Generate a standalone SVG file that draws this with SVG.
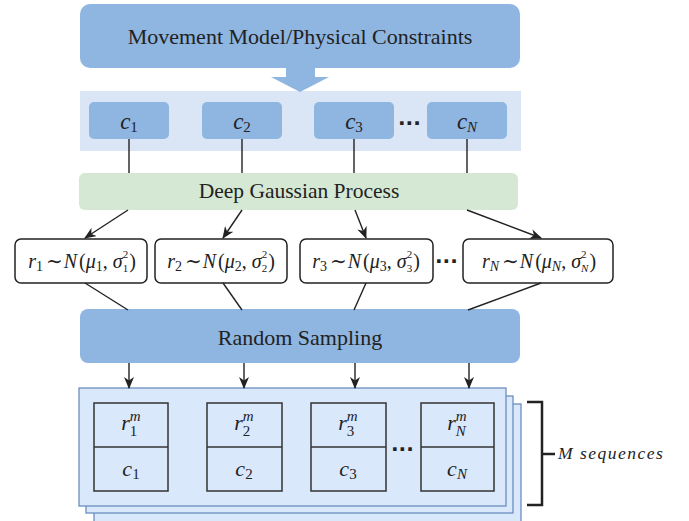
<svg xmlns="http://www.w3.org/2000/svg" width="689" height="521" viewBox="0 0 689 521">
<defs>
<style>
.blue{fill:#8fb5e1;}
.t{font-family:"Liberation Serif","DejaVu Serif",serif;fill:#222;}
.i{font-style:italic;}
.s{font-size:14px;}
.rbox{fill:#fff;stroke:#222;stroke-width:1.5;}
.sheet{fill:#dae8fc;stroke:#6c8ebf;stroke-width:1.3;}
.cell{fill:none;stroke:#333;stroke-width:1.5;}
.ln{stroke:#222;stroke-width:1.4;fill:none;}
.dots{font-family:"DejaVu Sans",sans-serif;font-weight:bold;font-size:20px;fill:#222;}
</style>
<marker id="ah" markerWidth="12" markerHeight="10" refX="11" refY="5" orient="auto" markerUnits="userSpaceOnUse">
<path d="M0,0 L12,5 L0,10 L3.5,5 z" fill="#222"/>
</marker>
</defs>
<rect width="689" height="521" fill="#fff"/>

<g id="constraints">
<rect class="blue" x="80" y="4" width="440" height="64" rx="10"/>
<text class="t" x="300" y="44" font-size="22" text-anchor="middle">Movement Model/Physical Constraints</text>
</g>

<g id="c-band">
<rect x="80" y="91" width="441" height="60" fill="#dae6f5"/>
<polygon class="blue" points="286,67 315,67 315,77 329,77 300,92 271,77 286,77"/>
</g>

<g id="c1"><rect class="blue" x="89" y="102" width="80" height="37" rx="5"/>
<text class="t" x="129" y="129" font-size="23" text-anchor="middle"><tspan class="i">c</tspan><tspan font-size="15" dy="3">1</tspan></text></g>
<g id="c2"><rect class="blue" x="202" y="102" width="80" height="37" rx="5"/>
<text class="t" x="242" y="129" font-size="23" text-anchor="middle"><tspan class="i">c</tspan><tspan font-size="15" dy="3">2</tspan></text></g>
<g id="c3"><rect class="blue" x="314" y="102" width="80" height="37" rx="5"/>
<text class="t" x="354" y="129" font-size="23" text-anchor="middle"><tspan class="i">c</tspan><tspan font-size="15" dy="3">3</tspan></text></g>
<text class="dots" x="398" y="125">...</text>
<g id="cN"><rect class="blue" x="427" y="102" width="80" height="37" rx="5"/>
<text class="t" x="467" y="129" font-size="23" text-anchor="middle"><tspan class="i">c</tspan><tspan class="i" font-size="15" dy="3">N</tspan></text></g>

<g id="dgp">
<rect x="79" y="173" width="439" height="37" rx="6" fill="#d5e8d4"/>
<text class="t" x="299" y="198" font-size="21.5" text-anchor="middle">Deep Gaussian Process</text>
</g>

<g id="r1"><rect class="rbox" x="15" y="239" width="132" height="44" rx="6"/>
<text class="t" x="82" y="268" font-size="20" text-anchor="middle"><tspan class="i">r</tspan><tspan class="s" dy="3">1</tspan><tspan dy="-3" dx="3">∼</tspan><tspan class="i" dx="1">N</tspan><tspan dx="2">(</tspan><tspan class="i">μ</tspan><tspan class="s" dy="3">1</tspan><tspan dy="-3">,</tspan><tspan class="i" dx="5">σ</tspan><tspan font-size="11" dy="-10">2</tspan><tspan font-size="11" dx="-5.5" dy="14">1</tspan><tspan dy="-4" dx="1">)</tspan></text></g>
<g id="r2"><rect class="rbox" x="155" y="239" width="132" height="44" rx="6"/>
<text class="t" x="221" y="268" font-size="20" text-anchor="middle"><tspan class="i">r</tspan><tspan class="s" dy="3">2</tspan><tspan dy="-3" dx="3">∼</tspan><tspan class="i" dx="1">N</tspan><tspan dx="2">(</tspan><tspan class="i">μ</tspan><tspan class="s" dy="3">2</tspan><tspan dy="-3">,</tspan><tspan class="i" dx="5">σ</tspan><tspan font-size="11" dy="-10">2</tspan><tspan font-size="11" dx="-5.5" dy="14">2</tspan><tspan dy="-4" dx="1">)</tspan></text></g>
<g id="r3"><rect class="rbox" x="300" y="239" width="133" height="44" rx="6"/>
<text class="t" x="366" y="268" font-size="20" text-anchor="middle"><tspan class="i">r</tspan><tspan class="s" dy="3">3</tspan><tspan dy="-3" dx="3">∼</tspan><tspan class="i" dx="1">N</tspan><tspan dx="2">(</tspan><tspan class="i">μ</tspan><tspan class="s" dy="3">3</tspan><tspan dy="-3">,</tspan><tspan class="i" dx="5">σ</tspan><tspan font-size="11" dy="-10">2</tspan><tspan font-size="11" dx="-5.5" dy="14">3</tspan><tspan dy="-4" dx="1">)</tspan></text></g>
<text class="dots" x="435" y="263">...</text>
<g id="rN"><rect class="rbox" x="463" y="239" width="150" height="44" rx="6"/>
<text class="t" x="539" y="268" font-size="20" text-anchor="middle"><tspan class="i">r</tspan><tspan class="s i" dy="3">N</tspan><tspan dy="-3" dx="3">∼</tspan><tspan class="i" dx="1">N</tspan><tspan dx="2">(</tspan><tspan class="i">μ</tspan><tspan class="s i" dy="3">N</tspan><tspan dy="-3">,</tspan><tspan class="i" dx="5">σ</tspan><tspan font-size="11" dy="-10">2</tspan><tspan class="i" font-size="11" dx="-5.5" dy="14">N</tspan><tspan dy="-4" dx="1">)</tspan></text></g>

<g id="sampling">
<rect class="blue" x="80" y="309" width="440" height="54" rx="8"/>
<text class="t" x="300" y="345" font-size="22" text-anchor="middle">Random Sampling</text>
</g>

<g id="sequences">
<rect class="sheet" x="94" y="404" width="427" height="120"/>
<rect class="sheet" x="86" y="396" width="427" height="117"/>
<rect class="sheet" x="79" y="388" width="427" height="118"/>
<g id="seq1"><rect class="cell" x="94" y="403" width="74" height="88"/><line class="cell" x1="94" y1="447" x2="168" y2="447"/>
<text class="t" x="131" y="430" font-size="22" text-anchor="middle"><tspan class="i">r</tspan><tspan class="i" font-size="15" dy="-9">m</tspan><tspan font-size="15" dx="-11" dy="15">1</tspan></text>
<text class="t" x="131" y="476" font-size="22" text-anchor="middle"><tspan class="i">c</tspan><tspan font-size="15" dy="3">1</tspan></text></g>
<g id="seq2"><rect class="cell" x="207" y="403" width="75" height="88"/><line class="cell" x1="207" y1="447" x2="282" y2="447"/>
<text class="t" x="244" y="430" font-size="22" text-anchor="middle"><tspan class="i">r</tspan><tspan class="i" font-size="15" dy="-9">m</tspan><tspan font-size="15" dx="-11" dy="15">2</tspan></text>
<text class="t" x="244" y="476" font-size="22" text-anchor="middle"><tspan class="i">c</tspan><tspan font-size="15" dy="3">2</tspan></text></g>
<g id="seq3"><rect class="cell" x="311" y="403" width="75" height="88"/><line class="cell" x1="311" y1="447" x2="386" y2="447"/>
<text class="t" x="348" y="430" font-size="22" text-anchor="middle"><tspan class="i">r</tspan><tspan class="i" font-size="15" dy="-9">m</tspan><tspan font-size="15" dx="-11" dy="15">3</tspan></text>
<text class="t" x="348" y="476" font-size="22" text-anchor="middle"><tspan class="i">c</tspan><tspan font-size="15" dy="3">3</tspan></text></g>
<text class="dots" x="391" y="451">...</text>
<g id="seqN"><rect class="cell" x="421" y="403" width="73" height="88"/><line class="cell" x1="421" y1="447" x2="494" y2="447"/>
<text class="t" x="457" y="430" font-size="22" text-anchor="middle"><tspan class="i">r</tspan><tspan class="i" font-size="15" dy="-9">m</tspan><tspan class="i" font-size="15" dx="-11" dy="15">N</tspan></text>
<text class="t" x="457" y="476" font-size="22" text-anchor="middle"><tspan class="i">c</tspan><tspan class="i" font-size="15" dy="3">N</tspan></text></g>
</g>

<g id="bracket">
<path d="M527,402 H542 V505 H527 M542,454 H555" fill="none" stroke="#222" stroke-width="2.5"/>
<text class="t i" x="558" y="459" font-size="17.5" letter-spacing="1.5">M sequences</text>
</g>

<g id="connectors">
<line class="ln" x1="129" y1="139" x2="129" y2="173"/>
<line class="ln" x1="242" y1="139" x2="242" y2="173"/>
<line class="ln" x1="354" y1="139" x2="354" y2="173"/>
<line class="ln" x1="467" y1="139" x2="467" y2="173"/>
<line class="ln" x1="128" y1="210" x2="85" y2="238" marker-end="url(#ah)"/>
<line class="ln" x1="242" y1="210" x2="223" y2="238" marker-end="url(#ah)"/>
<line class="ln" x1="355" y1="210" x2="366" y2="238" marker-end="url(#ah)"/>
<line class="ln" x1="467" y1="210" x2="541" y2="238" marker-end="url(#ah)"/>
<line class="ln" x1="85" y1="283" x2="128" y2="310"/>
<line class="ln" x1="223" y1="283" x2="242" y2="310"/>
<line class="ln" x1="366" y1="283" x2="354" y2="310"/>
<line class="ln" x1="541" y1="283" x2="468" y2="310"/>
<line class="ln" x1="129" y1="363" x2="129" y2="388" marker-end="url(#ah)"/>
<line class="ln" x1="244" y1="363" x2="244" y2="388" marker-end="url(#ah)"/>
<line class="ln" x1="355" y1="363" x2="355" y2="388" marker-end="url(#ah)"/>
<line class="ln" x1="469" y1="363" x2="469" y2="388" marker-end="url(#ah)"/>
</g>
</svg>
